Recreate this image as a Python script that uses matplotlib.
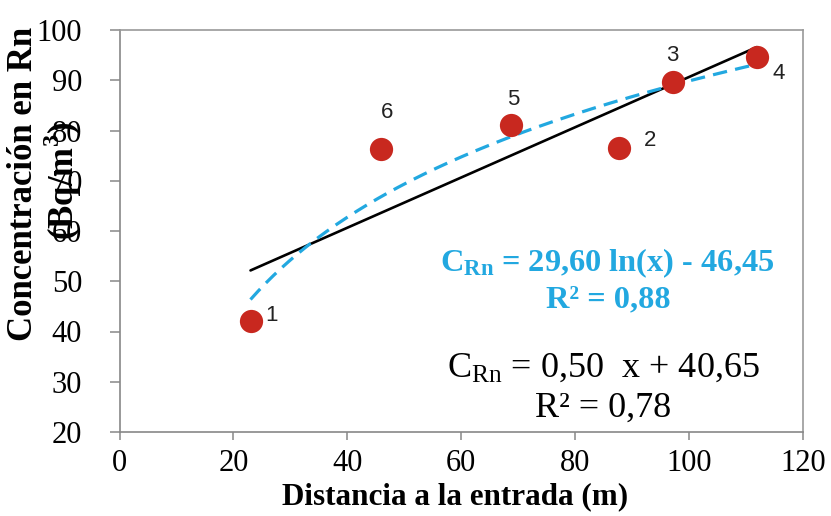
import numpy as np
import matplotlib
matplotlib.use("Agg")
import matplotlib.pyplot as plt

# ---- data ----
distance = [23.0, 87.7, 97.2, 111.9, 68.7, 45.9]
radon = [42.0, 76.5, 89.7, 94.7, 81.1, 76.3]
point_labels = ["1", "2", "3", "4", "5", "6"]
label_offsets_px = [(21, 6), (31, 8), (-1, 26), (22, -17), (2, 25), (6, 37)]

lin_slope, lin_intercept = 0.50, 40.65
log_a, log_b = 29.60, -46.45

x_ticks = [0, 20, 40, 60, 80, 100, 120]
y_ticks = [20, 30, 40, 50, 60, 70, 80, 90, 100]

# ---- style ----
plt.rcParams['mathtext.fontset'] = 'custom'
plt.rcParams['mathtext.rm'] = 'Liberation Serif'
plt.rcParams['mathtext.bf'] = 'Liberation Serif:bold'

W, H = 831, 516
fig = plt.figure(figsize=(W / 100, H / 100), dpi=100)
left, right, top, bottom = 119.5, 803, 30, 432
ax = fig.add_axes([left / W, 1 - bottom / H, (right - left) / W, (bottom - top) / H])

blue = '#22A8E0'
red = '#C8281F'

ax.set_xlim(0, 120)
ax.set_ylim(20, 100)

xs = np.linspace(min(distance), max(distance), 200)
ax.plot(xs, lin_slope * xs + lin_intercept, color='black', lw=1.9, zorder=2,
        solid_capstyle='round')
ax.plot(xs, log_a * np.log(xs) + log_b, color=blue, lw=2.3, zorder=3,
        dashes=(4.5, 2.6))

ax.scatter(distance, radon, s=280, color=red, zorder=4, linewidths=0)

for xv, yv, lab, off in zip(distance, radon, point_labels, label_offsets_px):
    ax.annotate(lab, (xv, yv), xytext=off, textcoords='offset pixels',
                ha='center', va='center', fontsize=16, family='Liberation Sans',
                color='#222222')

ax.set_xticks(x_ticks)
ax.set_yticks(y_ticks)
for lab in ax.get_xticklabels() + ax.get_yticklabels():
    lab.set_family('Liberation Serif')
    lab.set_fontsize(22)
ax.tick_params(axis='y', direction='out', length=7, width=1.1, color='#888888', pad=20)
ax.tick_params(axis='x', direction='out', length=6, width=1.1, color='#888888', pad=6)

for s in ['left', 'bottom']:
    ax.spines[s].set_color('#888888')
    ax.spines[s].set_linewidth(1.2)
for s in ['top', 'right']:
    ax.spines[s].set_color('#999999')
    ax.spines[s].set_linewidth(1.2)

# axis labels
fig.text(455 / W, 1 - 497 / H, 'Distancia a la entrada (m)', ha='center', va='center',
         fontsize=22.4, fontweight='bold', family='Liberation Serif')
fig.text(24 / W, 1 - 184 / H, 'Concentración en Rn', ha='center', va='center',
         rotation=90, fontsize=25, fontweight='bold', family='Liberation Serif')
fig.text(63 / W, 1 - 181 / H, '(Bq/m$^{\\mathregular{3}}$)', ha='center', va='center',
         rotation=90, fontsize=25, fontweight='bold', family='Liberation Serif')

# equations
fig.text(607 / W, 1 - 263 / H, '$\\mathregular{C_{Rn}}$ = 29,60 ln(x) - 46,45',
         ha='center', va='center', fontsize=23.3, fontweight='bold',
         family='Liberation Serif', color=blue)
fig.text(608 / W, 1 - 300 / H, 'R² = 0,88', ha='center', va='center', fontsize=23.3,
         fontweight='bold', family='Liberation Serif', color=blue)
fig.text(603 / W, 1 - 368 / H, '$\\mathregular{C_{Rn}}$ = 0,50  x + 40,65',
         ha='center', va='center', fontsize=26, family='Liberation Serif', color='black')
fig.text(603 / W, 1 - 408 / H, 'R² = 0,78', ha='center', va='center', fontsize=26,
         family='Liberation Serif', color='black')

fig.savefig('out.png', dpi=100)
